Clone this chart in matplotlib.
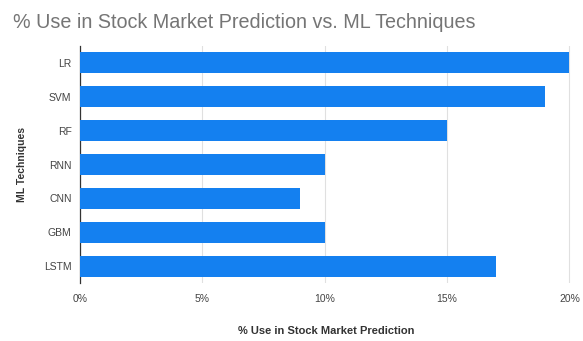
import matplotlib
matplotlib.use("Agg")
import matplotlib.pyplot as plt
from matplotlib.ticker import FuncFormatter

categories = ["LR", "SVM", "RF", "RNN", "CNN", "GBM", "LSTM"]
values = [20, 19, 15, 10, 9, 10, 17]
xticks = [0, 5, 10, 15, 20]

plt.rcParams['font.family'] = ['Liberation Sans', 'DejaVu Sans']
fig = plt.figure(figsize=(5.83, 3.41), dpi=100)
ax = fig.add_axes([0.137, 0.170, 0.844, 0.695])

ypos = list(range(len(categories)))
ax.barh(ypos, values, height=0.62, color="#1480f0", zorder=3)
ax.set_yticks(ypos)
ax.set_yticklabels(categories)
ax.set_ylim(len(categories) - 0.5, -0.5)
ax.set_xlim(0, 20.1)
ax.set_xticks(xticks)
ax.xaxis.set_major_formatter(FuncFormatter(lambda v, p: f"{int(v)}%"))
ax.grid(axis="x", color="#e0e0e0", linewidth=0.8, zorder=0)
for s in ["top", "right", "bottom"]:
    ax.spines[s].set_visible(False)
ax.spines["left"].set_color("#333333")
ax.spines["left"].set_linewidth(0.9)
ax.tick_params(axis="both", length=0, labelsize=7.5, colors="#444444")
ax.tick_params(axis="y", pad=6)
ax.tick_params(axis="x", pad=8)
ax.set_xlabel("% Use in Stock Market Prediction", fontsize=8, color="#333333", labelpad=16, fontweight="bold")
ax.set_ylabel("ML Techniques", fontsize=7.5, color="#333333", labelpad=12, fontweight="bold")
fig.text(0.022, 0.935, "% Use in Stock Market Prediction vs. ML Techniques", fontsize=14.2, color="#757575", va="center", ha="left")

fig.savefig("out.png", dpi=100)
